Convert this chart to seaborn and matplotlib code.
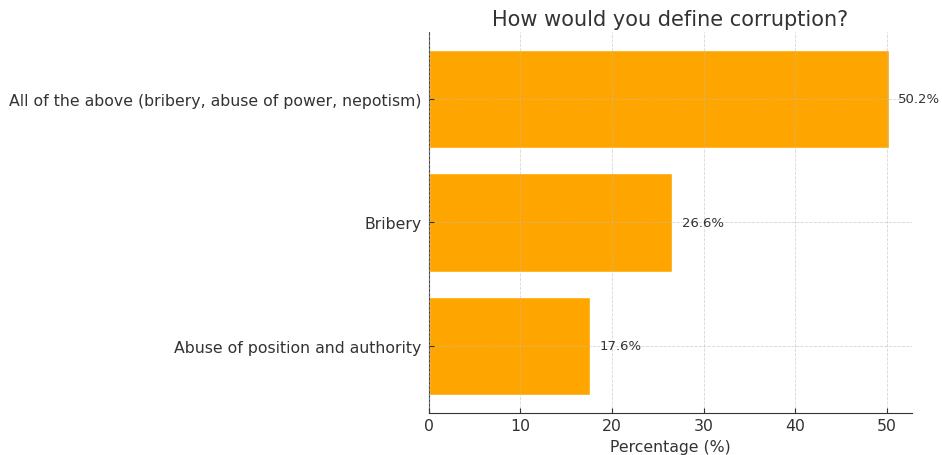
import matplotlib
matplotlib.use("Agg")
import matplotlib.pyplot as plt
import seaborn as sns
import pandas as pd

# ========== Data ==========
categories = [
    "All of the above (bribery, abuse of power, nepotism)",
    "Bribery",
    "Abuse of position and authority",
]
percentages = [50.2, 26.6, 17.6]

df = pd.DataFrame({"answer": categories, "pct": percentages})

sns.set_style("white")
plt.rcParams['font.family'] = ['DejaVu Sans']

fig = plt.figure(figsize=(9.42, 4.56), dpi=100)
ax = fig.add_axes([0.455, 0.093, 0.513, 0.834])

sns.barplot(data=df, x="pct", y="answer", color="#FFA500", saturation=1,
            width=0.8, ax=ax)

for i, v in enumerate(percentages):
    ax.text(v + 1, i, f"{v}%", va="center", ha="left", fontsize=9.5, color="#333333")

ax.set_xlim(0, max(percentages) * 1.05)
ax.set_ylim(2.54, -0.54)
ax.grid(True, linestyle="--", color="#bbbbbb", linewidth=0.6, alpha=0.6)
ax.set_axisbelow(False)
sns.despine(ax=ax)
for s in ["left", "bottom"]:
    ax.spines[s].set_color("#333333")
ax.tick_params(axis="both", labelsize=11.35, colors="#333333", length=3.5,
               direction="in", left=True, bottom=True)
ax.tick_params(axis="x", pad=4)
ax.tick_params(axis="y", pad=5)
ax.set_ylabel("")
ax.set_xlabel("Percentage (%)", fontsize=11.35, color="#333333", labelpad=4)
ax.set_title("How would you define corruption?", fontsize=15, color="#333333", pad=5)

fig.savefig("out.png", dpi=100)
